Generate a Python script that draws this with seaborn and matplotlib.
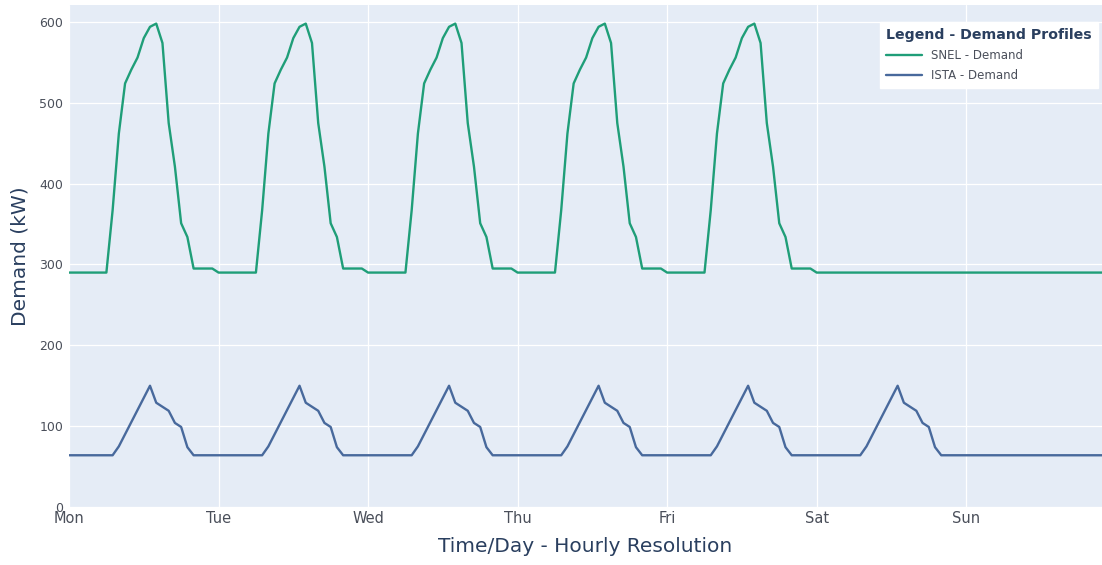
import numpy as np
import pandas as pd
import matplotlib
matplotlib.use("Agg")
import matplotlib.pyplot as plt
import seaborn as sns

# hourly profiles (kW), hours 0..23
snel_workday = [290, 290, 290, 290, 290, 290, 290, 367, 462, 524, 541, 556,
                580, 594, 598, 574, 475, 421, 351, 334, 295, 295, 295, 295]
snel_weekend = [290, 290, 290, 290, 290, 290, 290, 290, 290, 290, 290, 290,
                290, 290, 290, 290, 290, 290, 290, 290, 290, 290, 290, 290]
ista_workday = [64, 64, 64, 64, 64, 64, 64, 64, 75, 90, 105, 120,
                135, 150, 129, 124, 119, 104, 99, 74, 64, 64, 64, 64]
ista_sunday = [64, 64, 64, 64, 64, 64, 64, 64, 64, 64, 64, 64,
               64, 64, 64, 64, 64, 64, 64, 64, 64, 64, 64, 64]

day_labels = ["Mon", "Tue", "Wed", "Thu", "Fri", "Sat", "Sun"]
snel_days = [snel_workday] * 5 + [snel_weekend] * 2
ista_days = [ista_workday] * 6 + [ista_sunday]

snel = np.concatenate(snel_days)
ista = np.concatenate(ista_days)
hours = np.arange(len(snel))

df = pd.concat([
    pd.DataFrame({"hour": hours, "demand": snel, "profile": "SNEL - Demand"}),
    pd.DataFrame({"hour": hours, "demand": ista, "profile": "ISTA - Demand"}),
])

sns.set_theme(style="darkgrid")
plt.rcParams['font.family'] = ['DejaVu Sans']
text_col = "#2a3f5f"
tick_col = "#4a4f5a"

fig = plt.figure(figsize=(11.02, 5.65), dpi=100)
ax = fig.add_axes([69 / 1102, 1 - 507 / 565, 1 - 69 / 1102, 502 / 565])
ax.set_facecolor("#E5ECF6")

sns.lineplot(data=df, x="hour", y="demand", hue="profile",
             palette={"SNEL - Demand": "#1f9e78", "ISTA - Demand": "#48699c"},
             linewidth=1.7, ax=ax)

ax.set_xlim(0, 165.8)
ax.set_ylim(0, 621)
ax.set_xticks(np.arange(0, 24 * len(day_labels), 24))
ax.set_xticklabels(day_labels)
ax.set_yticks([0, 100, 200, 300, 400, 500, 600])
ax.grid(True, color="white", linewidth=0.9)
for s in ax.spines.values():
    s.set_visible(False)
ax.tick_params(axis="x", labelsize=10.5, colors=tick_col, pad=3, length=0)
ax.tick_params(axis="y", labelsize=9, colors=tick_col, pad=4, length=0)

ax.set_xlabel("Time/Day - Hourly Resolution", fontsize=14.5, color=text_col, labelpad=8)
ax.set_ylabel("Demand (kW)", fontsize=14.5, color=text_col, labelpad=7)

leg = ax.legend(title="Legend - Demand Profiles", loc="upper right",
                bbox_to_anchor=(0.996, 0.966), borderaxespad=0,
                fontsize=8.5, title_fontsize=10.2,
                frameon=True, fancybox=False, handlelength=3.0,
                borderpad=0.5, labelspacing=0.6, alignment="left")
leg.get_frame().set_facecolor("white")
leg.get_frame().set_edgecolor("white")
leg.get_frame().set_alpha(1)
leg.get_title().set_fontweight("bold")
leg.get_title().set_color(text_col)
for t in leg.get_texts():
    t.set_color(tick_col)

fig.savefig("out.png", dpi=100)
